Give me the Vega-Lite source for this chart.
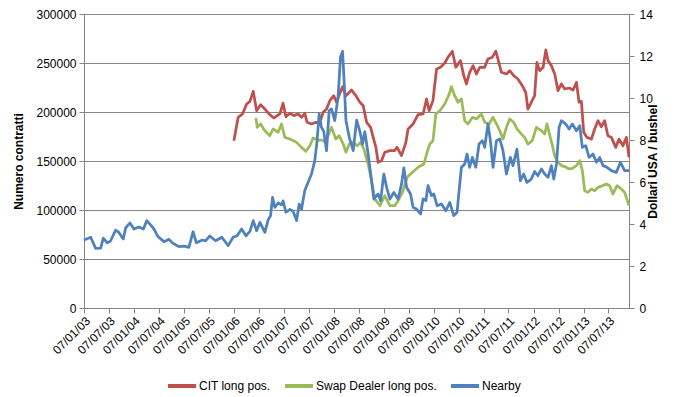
{
  "$schema": "https://vega.github.io/schema/vega-lite/v6.json",
  "width": 545,
  "height": 294,
  "autosize": {"type": "none"},
  "padding": {"left": 84, "top": 14, "right": 60, "bottom": 89},
  "background": "white",
  "config": {
    "font": "Liberation Sans",
    "view": {"stroke": null},
    "axis": {"labelFont": "Liberation Sans", "labelFontSize": 12, "labelColor": "#000000", "domainColor": "#868686", "tickColor": "#868686", "tickSize": 5, "titleFont": "Liberation Sans", "titleFontSize": 12, "titleFontWeight": "bold", "titleColor": "#000000"},
    "legend": {"labelFont": "Liberation Sans", "labelFontSize": 12, "labelColor": "#000000"}
  },
  "data": {"values": [
    {"date":"2003-01-07","series":"Nearby","value":3.24},
    {"date":"2003-02-25","series":"Nearby","value":3.37},
    {"date":"2003-04-02","series":"Nearby","value":2.84},
    {"date":"2003-05-09","series":"Nearby","value":2.85},
    {"date":"2003-05-28","series":"Nearby","value":3.33},
    {"date":"2003-06-26","series":"Nearby","value":3.1},
    {"date":"2003-07-21","series":"Nearby","value":3.2},
    {"date":"2003-08-26","series":"Nearby","value":3.71},
    {"date":"2003-09-19","series":"Nearby","value":3.6},
    {"date":"2003-10-21","series":"Nearby","value":3.29},
    {"date":"2003-11-07","series":"Nearby","value":3.81},
    {"date":"2003-12-09","series":"Nearby","value":4.05},
    {"date":"2004-01-07","series":"Nearby","value":3.76},
    {"date":"2004-02-12","series":"Nearby","value":3.86},
    {"date":"2004-03-16","series":"Nearby","value":3.76},
    {"date":"2004-04-10","series":"Nearby","value":4.16},
    {"date":"2004-05-09","series":"Nearby","value":3.95},
    {"date":"2004-06-02","series":"Nearby","value":3.76},
    {"date":"2004-07-01","series":"Nearby","value":3.4},
    {"date":"2004-08-14","series":"Nearby","value":3.16},
    {"date":"2004-09-19","series":"Nearby","value":3.27},
    {"date":"2004-10-14","series":"Nearby","value":3.1},
    {"date":"2004-12-01","series":"Nearby","value":2.92},
    {"date":"2005-01-07","series":"Nearby","value":2.95},
    {"date":"2005-02-12","series":"Nearby","value":2.89},
    {"date":"2005-03-14","series":"Nearby","value":3.63},
    {"date":"2005-04-07","series":"Nearby","value":3.11},
    {"date":"2005-05-21","series":"Nearby","value":3.24},
    {"date":"2005-06-14","series":"Nearby","value":3.2},
    {"date":"2005-07-14","series":"Nearby","value":3.43},
    {"date":"2005-08-26","series":"Nearby","value":3.2},
    {"date":"2005-10-11","series":"Nearby","value":3.37},
    {"date":"2005-11-26","series":"Nearby","value":2.97},
    {"date":"2006-01-01","series":"Nearby","value":3.37},
    {"date":"2006-01-31","series":"Nearby","value":3.44},
    {"date":"2006-03-04","series":"Nearby","value":3.76},
    {"date":"2006-04-05","series":"Nearby","value":3.44},
    {"date":"2006-05-04","series":"Nearby","value":3.65},
    {"date":"2006-05-28","series":"Nearby","value":4.16},
    {"date":"2006-06-22","series":"Nearby","value":3.68},
    {"date":"2006-07-16","series":"Nearby","value":4.08},
    {"date":"2006-08-21","series":"Nearby","value":3.6},
    {"date":"2006-09-14","series":"Nearby","value":4.19},
    {"date":"2006-10-02","series":"Nearby","value":4.4},
    {"date":"2006-10-16","series":"Nearby","value":5.27},
    {"date":"2006-11-02","series":"Nearby","value":4.79},
    {"date":"2006-11-26","series":"Nearby","value":5.0},
    {"date":"2006-12-21","series":"Nearby","value":4.92},
    {"date":"2007-01-01","series":"Nearby","value":5.1},
    {"date":"2007-01-22","series":"Nearby","value":4.56},
    {"date":"2007-02-20","series":"Nearby","value":4.7},
    {"date":"2007-03-16","series":"Nearby","value":4.6},
    {"date":"2007-04-10","series":"Nearby","value":4.16},
    {"date":"2007-04-29","series":"Nearby","value":4.95},
    {"date":"2007-05-16","series":"Nearby","value":4.7},
    {"date":"2007-06-09","series":"Nearby","value":5.59},
    {"date":"2007-07-03","series":"Nearby","value":5.98},
    {"date":"2007-07-28","series":"Nearby","value":6.38},
    {"date":"2007-08-21","series":"Nearby","value":7.02},
    {"date":"2007-09-07","series":"Nearby","value":7.97},
    {"date":"2007-09-22","series":"Nearby","value":9.24},
    {"date":"2007-10-09","series":"Nearby","value":8.6},
    {"date":"2007-10-26","series":"Nearby","value":8.4},
    {"date":"2007-11-15","series":"Nearby","value":7.49},
    {"date":"2007-12-04","series":"Nearby","value":9.4},
    {"date":"2007-12-21","series":"Nearby","value":9.48},
    {"date":"2008-01-14","series":"Nearby","value":8.92},
    {"date":"2008-02-07","series":"Nearby","value":10.03},
    {"date":"2008-02-25","series":"Nearby","value":11.94},
    {"date":"2008-03-11","series":"Nearby","value":12.22},
    {"date":"2008-03-21","series":"Nearby","value":11.0},
    {"date":"2008-04-05","series":"Nearby","value":8.92},
    {"date":"2008-04-29","series":"Nearby","value":8.13},
    {"date":"2008-05-28","series":"Nearby","value":7.49},
    {"date":"2008-06-22","series":"Nearby","value":8.95},
    {"date":"2008-07-16","series":"Nearby","value":8.4},
    {"date":"2008-08-04","series":"Nearby","value":7.81},
    {"date":"2008-08-21","series":"Nearby","value":8.4},
    {"date":"2008-09-14","series":"Nearby","value":7.33},
    {"date":"2008-10-09","series":"Nearby","value":6.06},
    {"date":"2008-10-26","series":"Nearby","value":5.19},
    {"date":"2008-11-26","series":"Nearby","value":5.43},
    {"date":"2008-12-14","series":"Nearby","value":5.11},
    {"date":"2009-01-07","series":"Nearby","value":6.38},
    {"date":"2009-01-27","series":"Nearby","value":5.75},
    {"date":"2009-02-20","series":"Nearby","value":5.19},
    {"date":"2009-03-21","series":"Nearby","value":5.5},
    {"date":"2009-04-21","series":"Nearby","value":5.19},
    {"date":"2009-05-16","series":"Nearby","value":5.9},
    {"date":"2009-06-02","series":"Nearby","value":6.67},
    {"date":"2009-06-22","series":"Nearby","value":5.75},
    {"date":"2009-07-21","series":"Nearby","value":5.43},
    {"date":"2009-08-09","series":"Nearby","value":4.79},
    {"date":"2009-09-03","series":"Nearby","value":4.71},
    {"date":"2009-10-02","series":"Nearby","value":4.48},
    {"date":"2009-10-21","series":"Nearby","value":5.19},
    {"date":"2009-11-10","series":"Nearby","value":5.11},
    {"date":"2009-11-26","series":"Nearby","value":5.83},
    {"date":"2009-12-21","series":"Nearby","value":5.35},
    {"date":"2010-01-07","series":"Nearby","value":5.43},
    {"date":"2010-01-31","series":"Nearby","value":4.87},
    {"date":"2010-03-04","series":"Nearby","value":4.95},
    {"date":"2010-04-05","series":"Nearby","value":4.63},
    {"date":"2010-05-04","series":"Nearby","value":5.03},
    {"date":"2010-06-02","series":"Nearby","value":4.4},
    {"date":"2010-06-26","series":"Nearby","value":4.55},
    {"date":"2010-07-11","series":"Nearby","value":5.59},
    {"date":"2010-07-28","series":"Nearby","value":6.7},
    {"date":"2010-08-21","series":"Nearby","value":6.86},
    {"date":"2010-09-07","series":"Nearby","value":7.33},
    {"date":"2010-09-26","series":"Nearby","value":6.7},
    {"date":"2010-10-16","series":"Nearby","value":7.17},
    {"date":"2010-11-10","series":"Nearby","value":6.7},
    {"date":"2010-12-04","series":"Nearby","value":7.81},
    {"date":"2010-12-28","series":"Nearby","value":7.97},
    {"date":"2011-01-14","series":"Nearby","value":7.65},
    {"date":"2011-02-07","series":"Nearby","value":8.76},
    {"date":"2011-02-25","series":"Nearby","value":7.97},
    {"date":"2011-03-16","series":"Nearby","value":6.7},
    {"date":"2011-04-10","series":"Nearby","value":7.97},
    {"date":"2011-05-04","series":"Nearby","value":8.05},
    {"date":"2011-05-28","series":"Nearby","value":7.49},
    {"date":"2011-06-22","series":"Nearby","value":6.38},
    {"date":"2011-07-21","series":"Nearby","value":7.17},
    {"date":"2011-08-09","series":"Nearby","value":6.78},
    {"date":"2011-09-07","series":"Nearby","value":7.57},
    {"date":"2011-10-02","series":"Nearby","value":6.06},
    {"date":"2011-10-26","series":"Nearby","value":6.38},
    {"date":"2011-11-19","series":"Nearby","value":5.98},
    {"date":"2011-12-21","series":"Nearby","value":6.14},
    {"date":"2012-01-14","series":"Nearby","value":6.5},
    {"date":"2012-02-07","series":"Nearby","value":6.3},
    {"date":"2012-03-04","series":"Nearby","value":6.62},
    {"date":"2012-03-28","series":"Nearby","value":6.38},
    {"date":"2012-04-21","series":"Nearby","value":6.22},
    {"date":"2012-05-16","series":"Nearby","value":6.78},
    {"date":"2012-06-02","series":"Nearby","value":6.14},
    {"date":"2012-06-22","series":"Nearby","value":6.86},
    {"date":"2012-07-11","series":"Nearby","value":8.6},
    {"date":"2012-07-28","series":"Nearby","value":8.92},
    {"date":"2012-08-29","series":"Nearby","value":8.76},
    {"date":"2012-09-22","series":"Nearby","value":8.52},
    {"date":"2012-10-16","series":"Nearby","value":8.76},
    {"date":"2012-11-15","series":"Nearby","value":8.44},
    {"date":"2012-12-09","series":"Nearby","value":8.68},
    {"date":"2012-12-28","series":"Nearby","value":7.65},
    {"date":"2013-01-22","series":"Nearby","value":7.73},
    {"date":"2013-02-15","series":"Nearby","value":7.17},
    {"date":"2013-03-16","series":"Nearby","value":7.33},
    {"date":"2013-04-10","series":"Nearby","value":6.94},
    {"date":"2013-05-04","series":"Nearby","value":7.17},
    {"date":"2013-05-28","series":"Nearby","value":6.78},
    {"date":"2013-06-26","series":"Nearby","value":6.7},
    {"date":"2013-07-28","series":"Nearby","value":6.54},
    {"date":"2013-09-03","series":"Nearby","value":6.46},
    {"date":"2013-10-02","series":"Nearby","value":6.94},
    {"date":"2013-11-02","series":"Nearby","value":6.54},
    {"date":"2013-12-04","series":"Nearby","value":6.54},

    {"date":"2006-01-07","series":"CIT long pos.","value":170700},
    {"date":"2006-01-22","series":"CIT long pos.","value":182700},
    {"date":"2006-02-07","series":"CIT long pos.","value":194600},
    {"date":"2006-03-11","series":"CIT long pos.","value":198000},
    {"date":"2006-04-10","series":"CIT long pos.","value":208200},
    {"date":"2006-05-04","series":"CIT long pos.","value":210900},
    {"date":"2006-05-28","series":"CIT long pos.","value":221100},
    {"date":"2006-06-22","series":"CIT long pos.","value":201300},
    {"date":"2006-07-21","series":"CIT long pos.","value":207400},
    {"date":"2006-08-21","series":"CIT long pos.","value":203000},
    {"date":"2006-09-26","series":"CIT long pos.","value":197300},
    {"date":"2006-10-26","series":"CIT long pos.","value":193900},
    {"date":"2006-12-09","series":"CIT long pos.","value":198000},
    {"date":"2007-01-01","series":"CIT long pos.","value":208900},
    {"date":"2007-01-22","series":"CIT long pos.","value":195300},
    {"date":"2007-02-20","series":"CIT long pos.","value":198700},
    {"date":"2007-03-21","series":"CIT long pos.","value":196300},
    {"date":"2007-04-21","series":"CIT long pos.","value":198000},
    {"date":"2007-05-16","series":"CIT long pos.","value":194600},
    {"date":"2007-06-09","series":"CIT long pos.","value":198700},
    {"date":"2007-06-26","series":"CIT long pos.","value":189500},
    {"date":"2007-07-28","series":"CIT long pos.","value":187800},
    {"date":"2007-08-29","series":"CIT long pos.","value":189500},
    {"date":"2007-09-26","series":"CIT long pos.","value":189000},
    {"date":"2007-10-21","series":"CIT long pos.","value":199700},
    {"date":"2007-11-15","series":"CIT long pos.","value":203000},
    {"date":"2007-12-09","series":"CIT long pos.","value":211600},
    {"date":"2008-01-07","series":"CIT long pos.","value":216600},
    {"date":"2008-01-27","series":"CIT long pos.","value":209900},
    {"date":"2008-02-20","series":"CIT long pos.","value":219000},
    {"date":"2008-03-11","series":"CIT long pos.","value":225800},
    {"date":"2008-04-05","series":"CIT long pos.","value":216600},
    {"date":"2008-05-16","series":"CIT long pos.","value":222400},
    {"date":"2008-06-17","series":"CIT long pos.","value":216600},
    {"date":"2008-07-11","series":"CIT long pos.","value":210900},
    {"date":"2008-08-09","series":"CIT long pos.","value":206400},
    {"date":"2008-09-03","series":"CIT long pos.","value":189500},
    {"date":"2008-10-02","series":"CIT long pos.","value":184300},
    {"date":"2008-10-21","series":"CIT long pos.","value":174100},
    {"date":"2008-11-10","series":"CIT long pos.","value":164000},
    {"date":"2008-11-26","series":"CIT long pos.","value":148700},
    {"date":"2008-12-21","series":"CIT long pos.","value":150300},
    {"date":"2009-01-14","series":"CIT long pos.","value":158900},
    {"date":"2009-02-20","series":"CIT long pos.","value":160600},
    {"date":"2009-03-28","series":"CIT long pos.","value":160600},
    {"date":"2009-04-13","series":"CIT long pos.","value":164000},
    {"date":"2009-05-16","series":"CIT long pos.","value":155500},
    {"date":"2009-06-17","series":"CIT long pos.","value":169000},
    {"date":"2009-07-03","series":"CIT long pos.","value":182700},
    {"date":"2009-08-09","series":"CIT long pos.","value":187800},
    {"date":"2009-09-14","series":"CIT long pos.","value":197300},
    {"date":"2009-10-21","series":"CIT long pos.","value":198000},
    {"date":"2009-11-15","series":"CIT long pos.","value":213300},
    {"date":"2009-12-04","series":"CIT long pos.","value":201300},
    {"date":"2010-01-01","series":"CIT long pos.","value":211600},
    {"date":"2010-01-27","series":"CIT long pos.","value":243900},
    {"date":"2010-02-25","series":"CIT long pos.","value":245600},
    {"date":"2010-03-28","series":"CIT long pos.","value":250000},
    {"date":"2010-04-21","series":"CIT long pos.","value":256000},
    {"date":"2010-05-23","series":"CIT long pos.","value":262000},
    {"date":"2010-06-17","series":"CIT long pos.","value":245600},
    {"date":"2010-07-21","series":"CIT long pos.","value":252400},
    {"date":"2010-08-14","series":"CIT long pos.","value":237100},
    {"date":"2010-09-03","series":"CIT long pos.","value":228600},
    {"date":"2010-09-26","series":"CIT long pos.","value":240500},
    {"date":"2010-10-21","series":"CIT long pos.","value":247300},
    {"date":"2010-11-15","series":"CIT long pos.","value":238800},
    {"date":"2010-12-09","series":"CIT long pos.","value":245600},
    {"date":"2011-01-14","series":"CIT long pos.","value":245600},
    {"date":"2011-02-07","series":"CIT long pos.","value":254100},
    {"date":"2011-03-11","series":"CIT long pos.","value":255800},
    {"date":"2011-04-05","series":"CIT long pos.","value":262000},
    {"date":"2011-04-21","series":"CIT long pos.","value":254100},
    {"date":"2011-05-16","series":"CIT long pos.","value":240500},
    {"date":"2011-06-22","series":"CIT long pos.","value":238800},
    {"date":"2011-07-16","series":"CIT long pos.","value":242200},
    {"date":"2011-08-14","series":"CIT long pos.","value":237100},
    {"date":"2011-09-14","series":"CIT long pos.","value":233700},
    {"date":"2011-10-16","series":"CIT long pos.","value":226900},
    {"date":"2011-11-10","series":"CIT long pos.","value":220100},
    {"date":"2011-11-26","series":"CIT long pos.","value":203000},
    {"date":"2011-12-21","series":"CIT long pos.","value":209900},
    {"date":"2012-01-14","series":"CIT long pos.","value":216600},
    {"date":"2012-01-31","series":"CIT long pos.","value":250700},
    {"date":"2012-02-20","series":"CIT long pos.","value":242200},
    {"date":"2012-03-16","series":"CIT long pos.","value":245600},
    {"date":"2012-04-05","series":"CIT long pos.","value":263300},
    {"date":"2012-04-21","series":"CIT long pos.","value":252400},
    {"date":"2012-05-16","series":"CIT long pos.","value":247300},
    {"date":"2012-06-09","series":"CIT long pos.","value":238800},
    {"date":"2012-07-03","series":"CIT long pos.","value":221700},
    {"date":"2012-07-28","series":"CIT long pos.","value":228600},
    {"date":"2012-08-21","series":"CIT long pos.","value":223500},
    {"date":"2012-09-22","series":"CIT long pos.","value":224500},
    {"date":"2012-10-21","series":"CIT long pos.","value":222400},
    {"date":"2012-11-15","series":"CIT long pos.","value":230300},
    {"date":"2012-12-04","series":"CIT long pos.","value":210000},
    {"date":"2012-12-21","series":"CIT long pos.","value":210900},
    {"date":"2013-01-07","series":"CIT long pos.","value":179300},
    {"date":"2013-01-31","series":"CIT long pos.","value":174100},
    {"date":"2013-03-04","series":"CIT long pos.","value":172400},
    {"date":"2013-03-28","series":"CIT long pos.","value":182700},
    {"date":"2013-04-21","series":"CIT long pos.","value":191100},
    {"date":"2013-05-16","series":"CIT long pos.","value":185000},
    {"date":"2013-06-09","series":"CIT long pos.","value":191100},
    {"date":"2013-07-03","series":"CIT long pos.","value":175800},
    {"date":"2013-07-28","series":"CIT long pos.","value":174100},
    {"date":"2013-08-29","series":"CIT long pos.","value":163900},
    {"date":"2013-09-22","series":"CIT long pos.","value":172400},
    {"date":"2013-10-21","series":"CIT long pos.","value":165600},
    {"date":"2013-11-15","series":"CIT long pos.","value":174100},
    {"date":"2013-12-04","series":"CIT long pos.","value":153800},

    {"date":"2006-06-17","series":"Swap Dealer long pos.","value":193900},
    {"date":"2006-06-26","series":"Swap Dealer long pos.","value":184300},
    {"date":"2006-07-21","series":"Swap Dealer long pos.","value":187800},
    {"date":"2006-08-21","series":"Swap Dealer long pos.","value":180900},
    {"date":"2006-09-26","series":"Swap Dealer long pos.","value":175800},
    {"date":"2006-10-21","series":"Swap Dealer long pos.","value":182700},
    {"date":"2006-11-26","series":"Swap Dealer long pos.","value":179300},
    {"date":"2006-12-21","series":"Swap Dealer long pos.","value":187800},
    {"date":"2007-01-14","series":"Swap Dealer long pos.","value":174100},
    {"date":"2007-02-20","series":"Swap Dealer long pos.","value":172400},
    {"date":"2007-04-10","series":"Swap Dealer long pos.","value":169000},
    {"date":"2007-05-16","series":"Swap Dealer long pos.","value":163900},
    {"date":"2007-06-17","series":"Swap Dealer long pos.","value":159900},
    {"date":"2007-07-16","series":"Swap Dealer long pos.","value":165600},
    {"date":"2007-08-09","series":"Swap Dealer long pos.","value":173500},
    {"date":"2007-09-14","series":"Swap Dealer long pos.","value":171400},
    {"date":"2007-10-21","series":"Swap Dealer long pos.","value":171400},
    {"date":"2007-11-02","series":"Swap Dealer long pos.","value":169000},
    {"date":"2007-11-26","series":"Swap Dealer long pos.","value":175800},
    {"date":"2007-12-21","series":"Swap Dealer long pos.","value":184300},
    {"date":"2008-01-22","series":"Swap Dealer long pos.","value":172400},
    {"date":"2008-02-15","series":"Swap Dealer long pos.","value":175800},
    {"date":"2008-03-16","series":"Swap Dealer long pos.","value":167300},
    {"date":"2008-04-05","series":"Swap Dealer long pos.","value":158900},
    {"date":"2008-04-29","series":"Swap Dealer long pos.","value":167300},
    {"date":"2008-05-28","series":"Swap Dealer long pos.","value":169000},
    {"date":"2008-06-26","series":"Swap Dealer long pos.","value":165600},
    {"date":"2008-07-21","series":"Swap Dealer long pos.","value":169000},
    {"date":"2008-08-14","series":"Swap Dealer long pos.","value":162200},
    {"date":"2008-09-14","series":"Swap Dealer long pos.","value":146900},
    {"date":"2008-10-09","series":"Swap Dealer long pos.","value":129900},
    {"date":"2008-11-02","series":"Swap Dealer long pos.","value":111200},
    {"date":"2008-12-09","series":"Swap Dealer long pos.","value":104400},
    {"date":"2009-01-14","series":"Swap Dealer long pos.","value":114600},
    {"date":"2009-02-20","series":"Swap Dealer long pos.","value":104400},
    {"date":"2009-03-28","series":"Swap Dealer long pos.","value":104400},
    {"date":"2009-04-21","series":"Swap Dealer long pos.","value":109500},
    {"date":"2009-05-23","series":"Swap Dealer long pos.","value":118100},
    {"date":"2009-06-26","series":"Swap Dealer long pos.","value":133400},
    {"date":"2009-08-04","series":"Swap Dealer long pos.","value":138500},
    {"date":"2009-09-14","series":"Swap Dealer long pos.","value":143600},
    {"date":"2009-10-26","series":"Swap Dealer long pos.","value":146900},
    {"date":"2009-11-19","series":"Swap Dealer long pos.","value":158900},
    {"date":"2009-12-09","series":"Swap Dealer long pos.","value":167300},
    {"date":"2010-01-01","series":"Swap Dealer long pos.","value":170700},
    {"date":"2010-01-22","series":"Swap Dealer long pos.","value":198000},
    {"date":"2010-02-20","series":"Swap Dealer long pos.","value":201300},
    {"date":"2010-03-28","series":"Swap Dealer long pos.","value":208200},
    {"date":"2010-04-29","series":"Swap Dealer long pos.","value":218000},
    {"date":"2010-05-16","series":"Swap Dealer long pos.","value":225800},
    {"date":"2010-06-09","series":"Swap Dealer long pos.","value":216600},
    {"date":"2010-07-03","series":"Swap Dealer long pos.","value":209900},
    {"date":"2010-07-28","series":"Swap Dealer long pos.","value":213300},
    {"date":"2010-08-21","series":"Swap Dealer long pos.","value":191100},
    {"date":"2010-09-14","series":"Swap Dealer long pos.","value":187800},
    {"date":"2010-10-16","series":"Swap Dealer long pos.","value":194600},
    {"date":"2010-11-15","series":"Swap Dealer long pos.","value":192900},
    {"date":"2010-12-21","series":"Swap Dealer long pos.","value":198000},
    {"date":"2011-01-14","series":"Swap Dealer long pos.","value":189500},
    {"date":"2011-02-15","series":"Swap Dealer long pos.","value":187800},
    {"date":"2011-03-16","series":"Swap Dealer long pos.","value":194600},
    {"date":"2011-04-10","series":"Swap Dealer long pos.","value":187800},
    {"date":"2011-05-04","series":"Swap Dealer long pos.","value":181000},
    {"date":"2011-05-28","series":"Swap Dealer long pos.","value":172400},
    {"date":"2011-06-22","series":"Swap Dealer long pos.","value":184300},
    {"date":"2011-07-16","series":"Swap Dealer long pos.","value":192900},
    {"date":"2011-08-14","series":"Swap Dealer long pos.","value":189500},
    {"date":"2011-09-07","series":"Swap Dealer long pos.","value":182700},
    {"date":"2011-10-09","series":"Swap Dealer long pos.","value":177600},
    {"date":"2011-11-02","series":"Swap Dealer long pos.","value":174100},
    {"date":"2011-11-26","series":"Swap Dealer long pos.","value":167300},
    {"date":"2011-12-28","series":"Swap Dealer long pos.","value":170700},
    {"date":"2012-01-27","series":"Swap Dealer long pos.","value":184300},
    {"date":"2012-03-04","series":"Swap Dealer long pos.","value":181000},
    {"date":"2012-03-28","series":"Swap Dealer long pos.","value":177600},
    {"date":"2012-04-13","series":"Swap Dealer long pos.","value":187800},
    {"date":"2012-05-04","series":"Swap Dealer long pos.","value":176000},
    {"date":"2012-05-23","series":"Swap Dealer long pos.","value":165600},
    {"date":"2012-06-09","series":"Swap Dealer long pos.","value":155400},
    {"date":"2012-07-03","series":"Swap Dealer long pos.","value":148700},
    {"date":"2012-07-28","series":"Swap Dealer long pos.","value":145300},
    {"date":"2012-08-21","series":"Swap Dealer long pos.","value":144300},
    {"date":"2012-09-22","series":"Swap Dealer long pos.","value":141900},
    {"date":"2012-10-16","series":"Swap Dealer long pos.","value":142500},
    {"date":"2012-11-15","series":"Swap Dealer long pos.","value":145300},
    {"date":"2012-12-09","series":"Swap Dealer long pos.","value":150300},
    {"date":"2012-12-28","series":"Swap Dealer long pos.","value":140200},
    {"date":"2013-01-14","series":"Swap Dealer long pos.","value":119700},
    {"date":"2013-02-07","series":"Swap Dealer long pos.","value":118000},
    {"date":"2013-03-04","series":"Swap Dealer long pos.","value":121400},
    {"date":"2013-03-28","series":"Swap Dealer long pos.","value":119700},
    {"date":"2013-04-21","series":"Swap Dealer long pos.","value":123100},
    {"date":"2013-05-23","series":"Swap Dealer long pos.","value":124800},
    {"date":"2013-06-22","series":"Swap Dealer long pos.","value":126500},
    {"date":"2013-07-16","series":"Swap Dealer long pos.","value":124800},
    {"date":"2013-08-09","series":"Swap Dealer long pos.","value":116300},
    {"date":"2013-09-07","series":"Swap Dealer long pos.","value":124800},
    {"date":"2013-10-09","series":"Swap Dealer long pos.","value":121400},
    {"date":"2013-11-02","series":"Swap Dealer long pos.","value":118000},
    {"date":"2013-12-04","series":"Swap Dealer long pos.","value":104400}
  ]},
  "encoding": {
    "x": {
      "field": "date", "type": "temporal",
      "scale": {"domain": [{"year": 2003, "month": 1, "date": 7}, {"year": 2013, "month": 12, "date": 4}]},
      "axis": {
        "title": null, "grid": false, "format": "%d/%m/%y", "labelAngle": -45,
        "values": [
          {"year": 2003, "month": 1, "date": 7}, {"year": 2003, "month": 7, "date": 7},
          {"year": 2004, "month": 1, "date": 7}, {"year": 2004, "month": 7, "date": 7},
          {"year": 2005, "month": 1, "date": 7}, {"year": 2005, "month": 7, "date": 7},
          {"year": 2006, "month": 1, "date": 7}, {"year": 2006, "month": 7, "date": 7},
          {"year": 2007, "month": 1, "date": 7}, {"year": 2007, "month": 7, "date": 7},
          {"year": 2008, "month": 1, "date": 7}, {"year": 2008, "month": 7, "date": 7},
          {"year": 2009, "month": 1, "date": 7}, {"year": 2009, "month": 7, "date": 7},
          {"year": 2010, "month": 1, "date": 7}, {"year": 2010, "month": 7, "date": 7},
          {"year": 2011, "month": 1, "date": 7}, {"year": 2011, "month": 7, "date": 7},
          {"year": 2012, "month": 1, "date": 7}, {"year": 2012, "month": 7, "date": 7},
          {"year": 2013, "month": 1, "date": 7}, {"year": 2013, "month": 7, "date": 7}
        ],
        "labelOverlap": false, "labelPadding": 2
      }
    },
    "color": {
      "field": "series", "type": "nominal",
      "scale": {"domain": ["CIT long pos.", "Swap Dealer long pos.", "Nearby"], "range": ["#C0504D", "#9BBB59", "#4F81BD"]},
      "legend": {
        "title": null, "orient": "none", "direction": "horizontal",
        "legendX": 82, "legendY": 356,
        "symbolType": "stroke", "symbolSize": 784, "symbolStrokeWidth": 4,
        "columnPadding": 6, "labelOffset": 1
      }
    }
  },
  "layer": [
    {
      "transform": [{"filter": "datum.series !== 'Nearby'"}],
      "mark": {"type": "line", "strokeWidth": 2.75, "strokeJoin": "round"},
      "encoding": {
        "y": {
          "field": "value", "type": "quantitative",
          "scale": {"domain": [0, 300000]},
          "axis": {
            "title": "Numero contratti", "orient": "left", "format": "d",
            "values": [0, 50000, 100000, 150000, 200000, 250000, 300000],
            "grid": true, "gridColor": "#868686", "gridWidth": 1, "titlePadding": 10, "labelPadding": 3
          }
        }
      }
    },
    {
      "transform": [{"filter": "datum.series === 'Nearby'"}],
      "mark": {"type": "line", "strokeWidth": 2.75, "strokeJoin": "round"},
      "encoding": {
        "y": {
          "field": "value", "type": "quantitative",
          "scale": {"domain": [0, 14]},
          "axis": {
            "title": "Dollari USA / bushel", "orient": "right", "format": "d",
            "values": [0, 2, 4, 6, 8, 10, 12, 14],
            "grid": false, "titleAngle": 270, "titlePadding": 7, "labelPadding": 5
          }
        }
      }
    }
  ],
  "resolve": {"scale": {"y": "independent"}}
}
